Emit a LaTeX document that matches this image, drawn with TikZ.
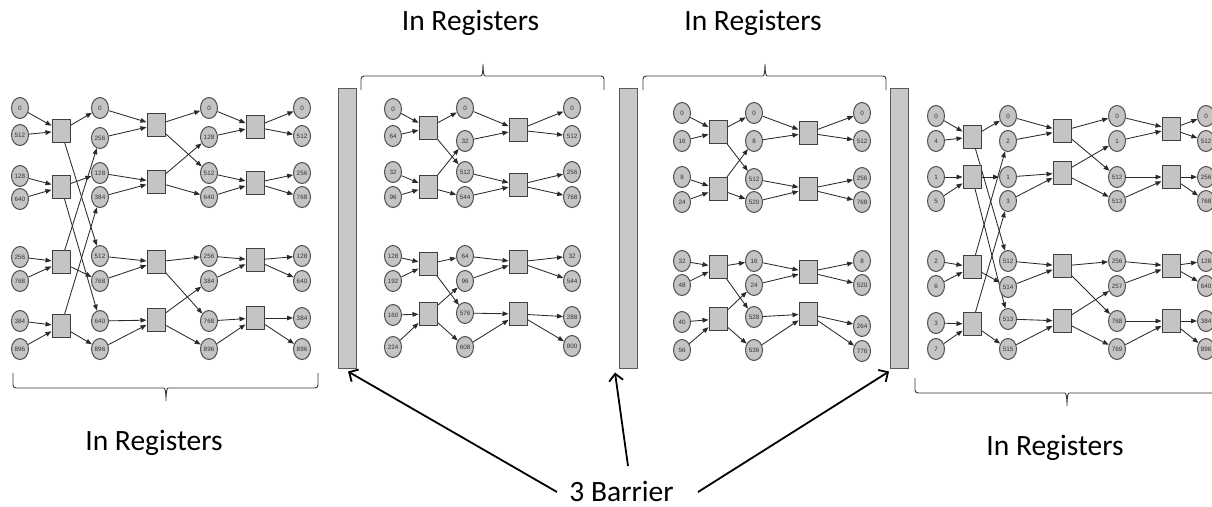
\documentclass[tikz,border=0pt]{standalone}
\usepackage{fontspec}
\setmainfont{Carlito}
\newfontfamily\lblfont{Liberation Sans}
\usetikzlibrary{shapes.geometric,arrows.meta}
\pgfdeclarelayer{bg}
\pgfsetlayers{bg,main}
\definecolor{nodefill}{HTML}{C4C4C4}
\definecolor{nodeline}{HTML}{505050}
\definecolor{edgecol}{HTML}{2A2A2A}
\definecolor{barfill}{HTML}{C8C8C8}
\tikzset{
 cn/.style={ellipse, draw=nodeline, fill=nodefill, line width=1pt, minimum width=17pt, minimum height=21pt, inner sep=0pt, font=\lblfont\fontsize{6.3}{6.3}\selectfont, text=black!80},
 sq/.style={rectangle, draw=black!75, fill=nodefill, line width=1pt, minimum width=18pt, minimum height=23pt, inner sep=0pt},
 ed/.style={draw=edgecol, line width=0.85pt, -{Triangle[length=6pt,width=4.6pt]}},
 barrier/.style={rectangle, draw=black!65, fill=barfill, line width=1pt, minimum width=18pt, minimum height=280pt, inner sep=0pt},
 brc/.style={draw=black!80, line width=0.9pt, rounded corners=3pt},
 big/.style={font=\fontsize{29.5}{32}\selectfont, inner sep=0pt, anchor=base},
 barr/.style={line width=1.8pt, -{Straight Barb[length=7pt,width=14pt,line width=1.8pt]}}
}
\newcommand\mkcol[3]{\foreach \l/\yy [count=\i] in {#3} {\node[cn] (#1-\i) at (#2,\yy) {\l};}}
\newcommand\mksq[3]{\foreach \yy [count=\i] in {#3} {\node[sq] (#1-\i) at (#2,\yy) {};}}
\newcommand\mkstage[4]{%
 \foreach \a/\b [count=\k] in {#4} {%
   \pgfmathtruncatemacro\ia{2*\k-1}\pgfmathtruncatemacro\ib{2*\k}%
   \begin{pgfonlayer}{bg}
   \draw[ed] (#1-\ia) -- (#2-\k);
   \draw[ed] (#1-\ib) -- (#2-\k);
   \draw[ed] (#2-\k) -- (#3-\a);
   \draw[ed] (#2-\k) -- (#3-\b);
   \end{pgfonlayer}
 }}
\begin{document}
\begin{tikzpicture}[x=1pt,y=-1pt]
\useasboundingbox (0,0) rectangle (1212,506);
\clip (0,0) rectangle (1212,506);
% ---------- Panel 1
\mkcol{pa}{20}{0/108,512/135,128/176,640/199,256/257,768/281,384/321,896/349}
\mksq{pas}{61}{131,187,262,326}
\mkcol{pb}{100}{0/108,256/138,128/173,384/197,512/256,768/281,640/321,896/349}
\mksq{pbs}{156}{125,182,262,320}
\mkcol{pc}{209}{0/108,128/137,512/173,640/197,256/256,384/281,768/321,896/349}
\mksq{pcs}{255}{127,183,260,318}
\mkcol{pd}{302}{0/108,512/136,256/173,768/197,128/256,640/281,384/318,896/349}
\mkstage{pa}{pas}{pb}{1/5,3/7,2/6,4/8}
\mkstage{pb}{pbs}{pc}{1/3,2/4,5/7,6/8}
\mkstage{pc}{pcs}{pd}{1/2,3/4,5/6,7/8}
% ---------- Panel 2
\mkcol{qa}{393}{0/109,64/136,32/172,96/197,128/256,192/281,160/315,224/347}
\mksq{qas}{428}{128,187,264,314}
\mkcol{qb}{465}{0/108,32/141,512/172,544/197,64/256,96/281,576/313,608/347}
\mksq{qbs}{518}{130,185,262,314}
\mkcol{qc}{572}{0/108,512/136,256/172,768/197,32/256,544/281,288/317,800/346}
\mkstage{qa}{qas}{qb}{1/3,2/4,5/7,6/8}
\mkstage{qb}{qbs}{qc}{1/2,3/4,5/6,7/8}
% ---------- Panel 3
\mkcol{ra}{682}{0/113,16/141,8/177,24/202,32/261,48/285,40/322,56/350}
\mksq{ras}{718}{132,189,267,319}
\mkcol{rb}{754}{0/113,8/141,512/179,520/202,16/261,24/285,528/317,536/350}
\mksq{rbs}{808}{133,189,272,314}
\mkcol{rc}{862}{0/113,512/141,256/178,768/202,8/261,520/285,264/326,776/351}
\mkstage{ra}{ras}{rb}{1/3,2/4,5/7,6/8}
\mkstage{rb}{rbs}{rc}{1/2,3/4,5/6,7/8}
% ---------- Panel 4
\mkcol{sa}{936}{0/116,4/141,1/177,5/201,2/261,6/286,3/323,7/349}
\mksq{sas}{972}{137,177,267,324}
\mkcol{sb}{1008}{0/116,2/141,1/177,3/201,512/261,514/287,513/319,515/349}
\mksq{sbs}{1062}{131,173,266,321}
\mkcol{sc}{1117}{0/116,1/141,512/177,513/201,256/261,257/286,768/321,769/349}
\mksq{scs}{1171}{129,177,266,321}
\mkcol{sd}{1206}{0/116,512/141,256/177,768/201,128/261,640/286,384/321,896/349}
\mkstage{sa}{sas}{sb}{1/5,3/7,2/6,4/8}
\mkstage{sb}{sbs}{sc}{1/3,2/4,5/7,6/8}
\mkstage{sc}{scs}{sd}{1/2,3/4,5/6,7/8}
% ---------- Barriers
\node[barrier] (bar1) at (347,228) {};
\node[barrier] (bar2) at (628,228) {};
\node[barrier] (bar3) at (899,228) {};
% ---------- Braces
\draw[brc] (361,90) -- (361,76) -- (478,76) .. controls (482,76) and (483,72) .. (483,62) .. controls (483,72) and (484,76) .. (488,76) -- (604,76) -- (604,90);
\draw[brc] (643,90) -- (643,76) -- (760,76) .. controls (764,76) and (765,72) .. (765,62) .. controls (765,72) and (766,76) .. (770,76) -- (886,76) -- (886,90);
\draw[brc] (13,373) -- (13,388) -- (161,388) .. controls (165,388) and (166,392) .. (166,403) .. controls (166,392) and (167,388) .. (171,388) -- (318,388) -- (318,373);
\draw[brc] (915,378) -- (915,393) -- (1062,393) .. controls (1066,393) and (1067,397) .. (1067,408) .. controls (1067,397) and (1068,393) .. (1072,393) -- (1240,393) -- (1240,378);
% ---------- Texts
\node[big] (t1) at (470.5,30.5) {In Registers};
\node[big] (t2) at (753,30.5) {In Registers};
\node[big] (t3) at (154,450.5) {In Registers};
\node[big] (t4) at (1055,455.5) {In Registers};
\node[big] (lbl) at (621.5,501) {3 Barrier};
% ---------- Barrier arrows
\coordinate (k1) at (557,492);
\coordinate (k2) at (628,466);
\coordinate (k3) at (698,492);
\draw[barr] (k1) -- ([xshift=1pt,yshift=-3pt]bar1.south);
\draw[barr] (k2) -- ([xshift=-13pt,yshift=-4pt]bar2.south);
\draw[barr] (k3) -- ([xshift=-10pt,yshift=-3pt]bar3.south);
\end{tikzpicture}
\end{document}
